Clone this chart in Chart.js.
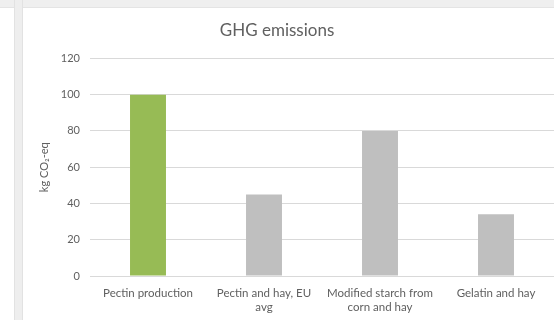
<!DOCTYPE html>
<html>
<head>
<meta charset="utf-8">
<script src="https://cdn.jsdelivr.net/npm/chart.js@4.4.1/dist/chart.umd.min.js"></script>
<style>
  html, body { margin: 0; padding: 0; background: #ffffff; }
  #wrap { position: relative; width: 554px; height: 320px; overflow: hidden; }
  .band { position: absolute; left: 0; top: 0; width: 554px; height: 7px; background: #efefef; border-bottom: 1px solid #e4e4e4; }
  .strip { position: absolute; left: 14px; top: 0; width: 7px; height: 320px; background: #eeeeee; border-left: 1px solid #e2e2e2; border-right: 1px solid #e2e2e2; }
  canvas { position: absolute; left: 0; top: 0; }
</style>
</head>
<body>
<div id="wrap">
  <div class="band"></div>
  <div class="strip"></div>
  <canvas id="chart" width="554" height="320"></canvas>
</div>
<script>
// Emission per product option, kg CO2-eq
const categories = [
  'Pectin production',
  ['Pectin and hay, EU', 'avg'],
  ['Modified starch from', 'corn and hay'],
  'Gelatin and hay'
];
const emissions = [100, 45, 80, 34];
const barColors = ['#97bb55', '#bfbfbf', '#bfbfbf', '#bfbfbf'];
const yTicks = [0, 20, 40, 60, 80, 100, 120];

const textColor = '#606060';
const gridColor = '#d9d9d9';
const fontFamily = 'Lato, "Open Sans", sans-serif';

new Chart(document.getElementById('chart'), {
  type: 'bar',
  data: {
    labels: categories,
    datasets: [{
      label: 'GHG emissions',
      data: emissions,
      backgroundColor: barColors,
      borderWidth: 0,
      barPercentage: 0.31,
      categoryPercentage: 1.0
    }]
  },
  options: {
    responsive: false,
    animation: false,
    layout: { padding: { left: 0, right: 0, top: 0, bottom: 0 } },
    plugins: {
      legend: { display: false },
      tooltip: { enabled: false },
      title: {
        display: true,
        text: 'GHG emissions',
        color: textColor,
        font: { family: fontFamily, size: 17, weight: 'normal' },
        padding: { top: 20, bottom: 18 }
      }
    },
    scales: {
      x: {
        grid: { display: false, drawTicks: false },
        border: { display: true, color: gridColor, width: 1 },
        ticks: {
          color: textColor,
          font: { family: fontFamily, size: 11.5, lineHeight: 1.15 },
          padding: 11,
          maxRotation: 0,
          autoSkip: false
        },
        afterFit: (scale) => { scale.height = 44; }
      },
      y: {
        min: 0,
        max: 120,
        afterBuildTicks: (scale) => { scale.ticks = yTicks.map(v => ({ value: v })); },
        grid: { color: gridColor, drawTicks: false },
        border: { display: false },
        ticks: {
          color: textColor,
          font: { family: fontFamily, size: 11 },
          padding: 10
        },
        title: {
          display: true,
          text: 'kg CO₂-eq',
          color: textColor,
          font: { family: fontFamily, size: 11 },
          padding: { top: 38, bottom: 0 }
        },
        afterFit: (scale) => { scale.width = 90; }
      }
    }
  }
});
</script>
</body>
</html>
